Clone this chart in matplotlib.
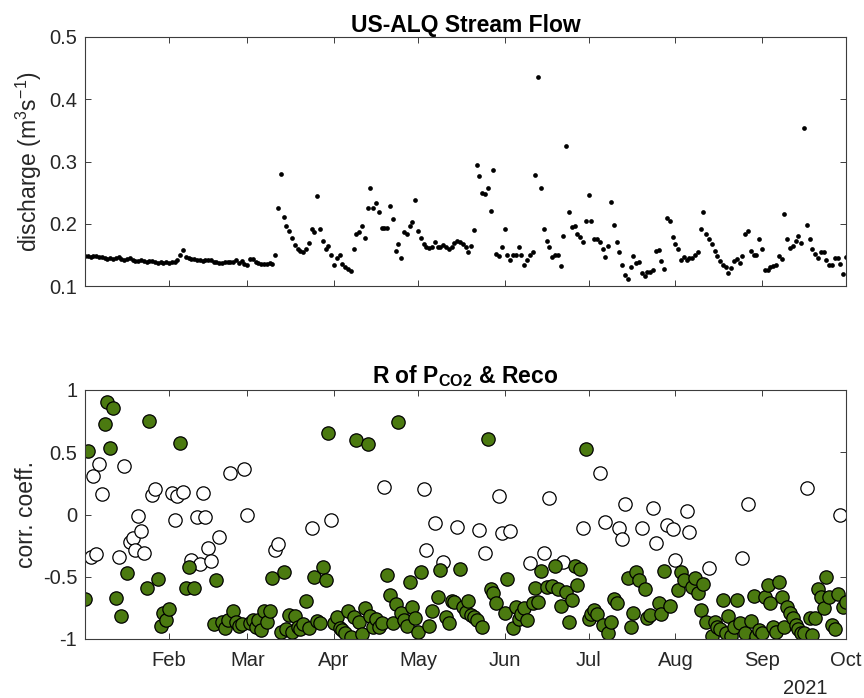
import matplotlib
matplotlib.use('Agg')
import matplotlib.pyplot as plt
import matplotlib.dates as mdates
import numpy as np
import pandas as pd

plt.rcParams['font.family'] = ['Liberation Sans', 'DejaVu Sans']
plt.rcParams['axes.unicode_minus'] = False
plt.rcParams['mathtext.fontset'] = 'custom'
plt.rcParams['mathtext.rm'] = 'Liberation Sans'
plt.rcParams['mathtext.it'] = 'Liberation Sans:italic'
plt.rcParams['mathtext.bf'] = 'Liberation Sans:bold'
plt.rcParams['mathtext.default'] = 'regular'

# ---------------- data ----------------
start_date = '2021-01-02'
x_start = '2021-01-02'
x_end = '2021-10-01'

# daily discharge (m3 s-1), 2 Jan .. 1 Oct 2021
discharge_jan = [0.148, 0.148, 0.147, 0.148, 0.148, 0.147, 0.146, 0.145, 0.144,
                 0.145, 0.144, 0.145, 0.146, 0.143, 0.141, 0.144, 0.145, 0.142, 0.140,
                 0.140, 0.141, 0.140, 0.139, 0.140, 0.140, 0.139, 0.137, 0.138, 0.137, 0.139]
discharge_feb = [0.137, 0.139, 0.138, 0.141, 0.150, 0.158, 0.147, 0.145, 0.144,
                 0.143, 0.142, 0.141, 0.140, 0.141, 0.142, 0.141, 0.139, 0.138, 0.137,
                 0.137, 0.138, 0.138, 0.139, 0.138, 0.141, 0.137, 0.140, 0.135]
discharge_mar = [0.133, 0.144, 0.143, 0.139, 0.137, 0.136, 0.136, 0.136, 0.137, 0.136,
                 0.150, 0.226, 0.280, 0.211, 0.196, 0.188, 0.177, 0.166, 0.160, 0.157,
                 0.155, 0.160, 0.169, 0.192, 0.187, 0.2445, 0.192, 0.173, 0.160, 0.165, 0.149]
discharge_apr = [0.133, 0.145, 0.149, 0.136, 0.131, 0.127, 0.124, 0.159, 0.184, 0.187,
                 0.196, 0.177, 0.226, 0.257, 0.225, 0.233, 0.219, 0.193, 0.193, 0.193,
                 0.229, 0.207, 0.156, 0.167, 0.145, 0.187, 0.184, 0.197, 0.203, 0.238]
discharge_may = [0.188, 0.177, 0.167, 0.163, 0.161, 0.163, 0.171, 0.163, 0.163, 0.166,
                 0.163, 0.159, 0.163, 0.169, 0.172, 0.171, 0.168, 0.163, 0.155, 0.164,
                 0.190, 0.295, 0.277, 0.249, 0.248, 0.257, 0.221, 0.286, 0.151, 0.148, 0.163]
discharge_jun = [0.192, 0.149, 0.141, 0.149, 0.149, 0.163, 0.149, 0.133, 0.141, 0.150,
                 0.155, 0.279, 0.4365, 0.258, 0.192, 0.173, 0.163, 0.147, 0.150, 0.150,
                 0.132, 0.180, 0.3256, 0.219, 0.195, 0.197, 0.184, 0.179, 0.170, 0.205]
discharge_jul = [0.2457, 0.205, 0.175, 0.175, 0.171, 0.160, 0.146, 0.164, 0.235, 0.198,
                 0.170, 0.155, 0.133, 0.117, 0.112, 0.130, 0.148, 0.137, 0.138, 0.121,
                 0.116, 0.123, 0.123, 0.126, 0.156, 0.158, 0.140, 0.127, 0.209, 0.204, 0.178]
discharge_aug = [0.167, 0.159, 0.142, 0.146, 0.142, 0.145, 0.145, 0.150, 0.154, 0.192,
                 0.219, 0.184, 0.175, 0.167, 0.157, 0.148, 0.140, 0.133, 0.130, 0.121,
                 0.129, 0.140, 0.144, 0.137, 0.148, 0.184, 0.189, 0.157, 0.149, 0.149, 0.175]
discharge_sep = [0.159, 0.125, 0.125, 0.131, 0.132, 0.133, 0.148, 0.144, 0.215, 0.176,
                 0.161, 0.165, 0.172, 0.180, 0.169, 0.354, 0.198, 0.176, 0.160, 0.151,
                 0.145, 0.154, 0.154, 0.141, 0.134, 0.133, 0.145, 0.145, 0.136, 0.120]
discharge_oct = [0.146]

# daily correlation coefficient R and whether it is significant (1 = filled)
r_jan = [-0.681, 0.513, -0.344, 0.309, -0.317, 0.406, 0.162, 0.724, 0.906, 0.532,
         0.858, -0.673, -0.344, -0.812, 0.390, -0.467, -0.218, -0.186, -0.285, -0.012,
         -0.130, -0.307, -0.588, 0.751, 0.157, 0.202, -0.518, -0.893, -0.788, -0.847]
s_jan = [1, 1, 0, 0, 0, 0, 0, 1, 1, 1,
         1, 1, 0, 1, 0, 1, 0, 0, 0, 0,
         0, 0, 1, 1, 0, 0, 1, 1, 1, 1]
r_feb = [-0.762, 0.175, -0.044, 0.149, 0.572, 0.183, -0.588, -0.419, -0.365, -0.593,
         -0.017, -0.398, 0.170, -0.017, -0.272, -0.373, -0.882, -0.526, -0.178, -0.866,
         -0.909, -0.847, 0.336, -0.772, -0.860, -0.893, -0.880, 0.363]
s_feb = [1, 0, 0, 0, 1, 0, 1, 1, 0, 1,
         0, 0, 0, 0, 0, 0, 1, 1, 0, 1,
         1, 1, 0, 1, 1, 1, 1, 0]
r_mar = [-0.004, -0.874, -0.847, -0.901, -0.850, -0.928, -0.772, -0.860, -0.772, -0.513,
         -0.285, -0.237, -0.941, -0.465, -0.922, -0.807, -0.940, -0.815, -0.901, -0.922,
         -0.880, -0.695, -0.909, -0.111, -0.505, -0.853, -0.874, -0.424, -0.526, 0.657, -0.044]
s_mar = [0, 1, 1, 1, 1, 1, 1, 1, 1, 1,
         0, 0, 1, 1, 1, 1, 1, 1, 1, 1,
         1, 1, 1, 0, 1, 1, 1, 1, 1, 1, 0]
r_apr = [-0.874, -0.826, -0.914, -0.930, -0.954, -0.772, -0.987, -0.820, 0.598, -0.861,
         -0.960, -0.754, 0.566, -0.815, -0.901, -0.842, -0.901, -0.870, 0.224, -0.486,
         -0.646, -0.874, -0.719, 0.746, -0.788, -0.850, -0.895, -0.540, -0.740, -0.834]
s_apr = [1, 1, 1, 1, 1, 1, 1, 1, 1, 1,
         1, 1, 1, 1, 1, 1, 1, 1, 0, 1,
         1, 1, 1, 1, 1, 1, 1, 1, 1, 1]
r_may = [-0.940, -0.465, 0.202, -0.285, -0.895, -0.772, -0.071, -0.665, -0.446, -0.379,
         -0.826, -0.868, -0.692, -0.700, -0.098, -0.440, -0.740, -0.780, -0.692, -0.807,
         -0.820, -0.850, -0.125, -0.906, -0.312, 0.604, -0.601, -0.633, -0.713, 0.149, -0.146]
s_may = [1, 1, 0, 0, 1, 1, 0, 1, 1, 0,
         1, 1, 1, 1, 0, 1, 1, 1, 1, 1,
         1, 1, 0, 1, 0, 1, 1, 1, 1, 0, 0]
r_jun = [-0.794, -0.518, -0.133, -0.914, -0.740, -0.842, -0.800, -0.754, -0.847, -0.387,
         -0.713, -0.588, -0.700, -0.454, -0.312, -0.579, 0.135, -0.574, -0.411, -0.601,
         -0.735, -0.379, -0.620, -0.861, -0.687, -0.414, -0.566, -0.440, -0.111, 0.524]
s_jun = [1, 1, 0, 1, 1, 1, 1, 1, 1, 0,
         1, 1, 1, 1, 0, 1, 0, 1, 1, 1,
         1, 0, 1, 1, 1, 1, 1, 1, 0, 1]
r_jul = [-0.842, -0.800, -0.767, -0.799, 0.331, -0.888, -0.058, -0.949, -0.861, -0.681,
         -0.708, -0.111, -0.200, 0.084, -0.513, -0.901, -0.794, -0.459, -0.526, -0.111,
         -0.601, -0.834, -0.807, 0.055, -0.226, -0.708, -0.799, -0.454, -0.084, -0.735, -0.116]
s_jul = [1, 1, 1, 1, 0, 1, 0, 1, 1, 1,
         1, 0, 0, 0, 1, 1, 1, 1, 1, 0,
         1, 1, 1, 0, 0, 1, 1, 1, 0, 1, 0]
r_aug = [-0.365, -0.606, -0.459, -0.526, 0.031, -0.138, -0.579, -0.513, -0.633, -0.767,
         -0.558, -0.861, -0.432, -0.976, -0.861, -0.901, -0.920, -0.687, -0.949, -0.815,
         -0.976, -0.900, -0.687, -0.874, -0.352, -0.949, 0.084, -0.853, -0.655, -0.976, -0.930]
s_aug = [0, 1, 1, 1, 0, 0, 1, 1, 1, 1,
         1, 1, 0, 1, 1, 1, 1, 1, 1, 1,
         1, 1, 1, 1, 0, 1, 0, 1, 1, 1, 1]
r_sep = [-0.949, -0.660, -0.566, -0.708, -0.901, -0.941, -0.539, -0.665, -0.901, -0.740,
         -0.794, -0.834, -0.888, -0.920, -0.949, -0.950, 0.216, -0.834, -0.968, -0.834,
         -0.601, -0.665, -0.753, -0.499, -0.665, -0.888, -0.922, -0.641, -0.004, -0.740]
s_sep = [1, 1, 1, 1, 1, 1, 1, 1, 1, 1,
         1, 1, 1, 1, 1, 1, 0, 1, 1, 1,
         1, 1, 1, 1, 1, 1, 1, 1, 0, 1]
r_oct = [-0.700]
s_oct = [1]

month_ticks = list(range(2, 11))
yticks_q = [0.1, 0.2, 0.3, 0.4, 0.5]
yticks_r = [-1, -0.5, 0, 0.5, 1]
yticklabels_r = ['-1', '-0.5', '0', '0.5', '1']

# ---------------- assemble ----------------
discharge = (discharge_jan + discharge_feb + discharge_mar + discharge_apr + discharge_may
             + discharge_jun + discharge_jul + discharge_aug + discharge_sep + discharge_oct)
r_values = r_jan + r_feb + r_mar + r_apr + r_may + r_jun + r_jul + r_aug + r_sep + r_oct
r_sig = s_jan + s_feb + s_mar + s_apr + s_may + s_jun + s_jul + s_aug + s_sep + s_oct

dates_q = pd.date_range(start_date, periods=len(discharge), freq='D')
dates_r = pd.date_range(start_date, periods=len(r_values), freq='D')
r_arr = np.array(r_values)
sig = np.array(r_sig, dtype=bool)

# ---------------- figure ----------------
W, H = 864, 698
fig = plt.figure(figsize=(W / 100, H / 100), dpi=100)
ax1 = fig.add_axes([85 / W, 1 - 286 / H, 761 / W, 249 / H])
ax2 = fig.add_axes([85 / W, 1 - 639 / H, 761 / W, 249 / H])

green = '#4b7a10'
axcol = '#3c3c3c'
txtcol = '#262626'

ax1.plot(dates_q, discharge, 'o', ls='none', ms=3.4, mfc='k', mec='k', mew=0)

ax2.plot(dates_r[~sig], r_arr[~sig], 'o', ls='none', ms=9.6, mfc='white', mec='k', mew=0.9)
ax2.plot(dates_r[sig], r_arr[sig], 'o', ls='none', ms=9.6, mfc=green, mec='k', mew=0.9)

for ax in (ax1, ax2):
    ax.set_xlim(pd.Timestamp(x_start), pd.Timestamp(x_end))
    ax.xaxis.set_major_locator(mdates.MonthLocator(bymonth=month_ticks))
    ax.xaxis.set_major_formatter(mdates.DateFormatter('%b'))
    ax.tick_params(direction='in', top=True, right=True, length=4.5, width=0.7,
                   colors=txtcol, labelsize=14.5)
    ax.tick_params(axis='x', pad=9)
    ax.tick_params(axis='y', pad=5.5)
    for sp in ax.spines.values():
        sp.set_color(axcol)
        sp.set_linewidth(0.8)
    ax.tick_params(color=axcol)

ax1.tick_params(labelbottom=False)
ax1.set_ylim(0.1, 0.5)
ax1.set_yticks(yticks_q)
ax1.set_yticklabels([f'{v:g}' for v in yticks_q])
ax1.set_ylabel(r'discharge (m$^{3}$s$^{-1}$)', fontsize=16.5, color=txtcol)
ax1.yaxis.set_label_coords((44 - 85) / 761, 0.5)
ax1.set_title('US-ALQ Stream Flow', fontsize=16.5, fontweight='bold', pad=2.5)

ax2.set_ylim(-1, 1)
ax2.set_yticks(yticks_r)
ax2.set_yticklabels(yticklabels_r)
ax2.set_ylabel('corr. coeff.', fontsize=16.5, color=txtcol)
ax2.yaxis.set_label_coords((38 - 85) / 761, 0.5)
ax2.set_title(r'R of P$_{\mathbf{CO2}}$ & Reco', fontsize=16.5, fontweight='bold', pad=5)

fig.text(805 / W, 1 - 688 / H, '2021', ha='center', va='center', fontsize=14.5, color=txtcol)

fig.savefig('out.png', dpi=100)
